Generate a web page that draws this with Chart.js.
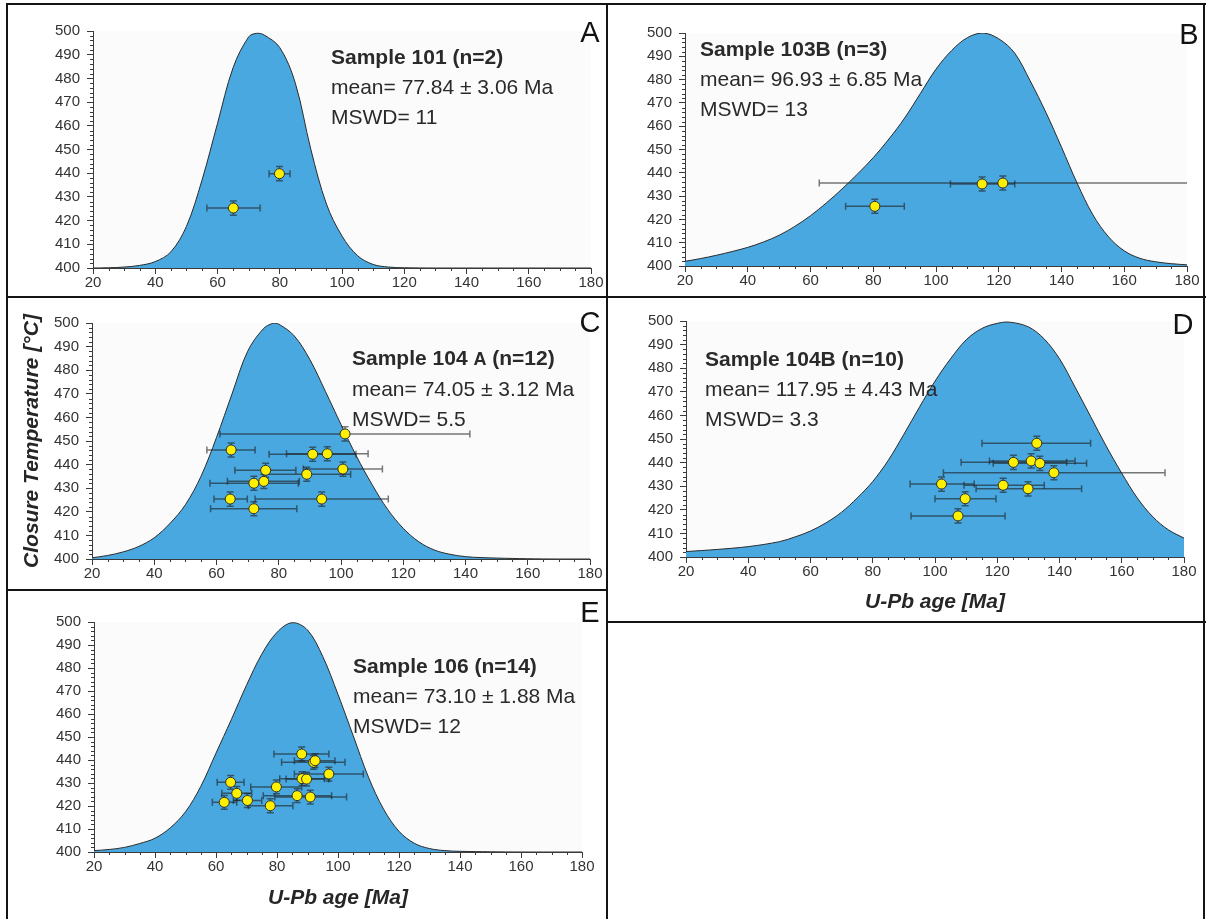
<!DOCTYPE html>
<html>
<head>
<meta charset="utf-8">
<script src="https://cdn.jsdelivr.net/npm/chart.js@4.4.1/dist/chart.umd.min.js"></script>
<style>
  body { margin: 0; background: #fff; width: 1206px; height: 919px; position: relative; overflow: hidden;
         font-family: "Liberation Sans", Arial, sans-serif; }
  canvas { position: absolute; }
  .ln { position: absolute; background: #141414; z-index: 5; }
  .note { position: absolute; font-size: 21px; line-height: 30px; color: #2a2a2a; white-space: nowrap; z-index: 4; }
  .letter { position: absolute; font-size: 29px; color: #111; transform: translate(-50%, -50%); z-index: 4; }
</style>
</head>
<body>

<canvas id="chartA" width="596" height="290" style="left:9px;top:5px"></canvas>
<canvas id="chartB" width="595" height="290" style="left:608px;top:5px"></canvas>
<canvas id="chartC" width="596" height="291" style="left:9px;top:298px"></canvas>
<canvas id="chartD" width="595" height="323" style="left:608px;top:298px"></canvas>
<canvas id="chartE" width="597" height="325" style="left:9px;top:592px"></canvas>

<!-- panel frames -->
<div class="ln" style="left:6px;top:3px;width:1200px;height:2px"></div>
<div class="ln" style="left:6px;top:296px;width:1200px;height:2px"></div>
<div class="ln" style="left:6px;top:589px;width:602px;height:2px"></div>
<div class="ln" style="left:606px;top:621px;width:600px;height:2px"></div>
<div class="ln" style="left:6px;top:3px;width:2px;height:916px"></div>
<div class="ln" style="left:606px;top:3px;width:2px;height:916px"></div>
<div class="ln" style="left:1203px;top:3px;width:2px;height:916px"></div>

<div class="letter" style="left:590px;top:32px">A</div>
<div class="letter" style="left:1189px;top:34px">B</div>
<div class="letter" style="left:590px;top:322px">C</div>
<div class="letter" style="left:1183px;top:324px">D</div>
<div class="letter" style="left:590px;top:612px">E</div>

<div class="note" style="left:331px;top:42px"><b>Sample 101 (n=2)</b><br>mean= 77.84 ± 3.06 Ma<br>MSWD= 11</div>
<div class="note" style="left:700px;top:34px"><b>Sample 103B (n=3)</b><br>mean= 96.93 ± 6.85 Ma<br>MSWD= 13</div>
<div class="note" style="left:352px;top:343px"><b>Sample 104 <span style="font-size:18px">A</span> (n=12)</b><br>mean= 74.05 ± 3.12 Ma<br>MSWD= 5.5</div>
<div class="note" style="left:705px;top:344px"><b>Sample 104B (n=10)</b><br>mean= 117.95 ± 4.43 Ma<br>MSWD= 3.3</div>
<div class="note" style="left:353px;top:651px"><b>Sample 106 (n=14)</b><br>mean= 73.10 ± 1.88 Ma<br>MSWD= 12</div>

<script>
// probability curves (age in Ma, curve height on the temperature axis)
const curveAgeA = [20, 25, 30, 35, 40, 45, 50, 55, 60, 65, 70, 72.5, 75, 80, 85, 90, 95, 100, 105, 110, 115, 120, 130, 140, 150, 160, 170, 180];
const curveA = [400, 400.1, 400.4, 401.1, 402.7, 406.8, 417.5, 437, 461, 484.5, 497.5, 499, 498.3, 493, 478, 450, 427, 413.5, 405.2, 401.5, 400.4, 400.1, 400, 400, 400, 400, 400, 400];

const curveAgeB = [20, 25, 30, 35, 40, 45, 50, 55, 60, 65, 70, 75, 80, 85, 90, 95, 100, 105, 110, 115, 120, 125, 130, 135, 140, 145, 150, 155, 160, 165, 170, 175, 180];
const curveB = [402, 403.2, 404.6, 406.2, 408, 410.3, 413.2, 417, 421.6, 427, 433, 439.5, 446.5, 454.5, 463.5, 474, 484.5, 492.5, 498, 500, 497.5, 491.5, 479.5, 466, 451, 435.5, 422, 412.5, 406.5, 403.3, 401.8, 401, 400.5];

const curveAgeC = [20, 25, 30, 35, 40, 45, 50, 55, 60, 65, 70, 75, 78, 80, 85, 90, 95, 100, 105, 110, 115, 120, 125, 130, 135, 140, 145, 150, 160, 170, 180];
const curveC = [400.5, 401.5, 403, 405.3, 409, 415, 423, 435, 451.5, 470, 488, 497.5, 499.8, 499.5, 494.5, 484.5, 471, 457, 443.5, 431.5, 421, 413, 407.3, 403.8, 402, 401, 400.6, 400.4, 400.1, 400, 400];

const curveAgeD = [20, 30, 40, 50, 55, 60, 65, 70, 75, 80, 85, 90, 95, 100, 105, 110, 115, 120, 124, 130, 135, 140, 145, 150, 155, 160, 165, 170, 175, 180];
const curveD = [402.3, 403.2, 404.4, 406.5, 408.5, 411, 414.5, 419, 425, 432, 441, 452, 463.5, 474.5, 484, 492, 496.8, 499, 499.5, 497.5, 492.5, 484, 472, 459.5, 447, 435.5, 425, 417, 411.5, 408];

const curveAgeE = [20, 25, 30, 35, 40, 45, 50, 55, 60, 65, 70, 75, 80, 85, 90, 95, 100, 105, 110, 115, 120, 125, 130, 135, 140, 150, 160, 170, 180];
const curveE = [400.6, 401.1, 402, 403.7, 406, 410.5, 417.5, 428.5, 443, 457.5, 472.5, 486, 495.5, 499.7, 496.5, 485, 468.5, 450.5, 432.5, 418.5, 409, 403.8, 401.5, 400.6, 400.3, 400.1, 400, 400, 400];

// single grain ages with their closure temperatures and age error ranges
const ageA = [65.1, 79.9];
const tempA = [425.3, 439.8];
const loA = [56.6, 76.6];
const hiA = [73.7, 83.3];

const ageB = [80.5, 114.7, 121.3];
const tempB = [425.6, 435.2, 435.6];
const loB = [71.2, 104.6, 62.8];
const hiB = [89.9, 125.1, 182];

const ageC = [101.3, 64.7, 90.9, 95.6, 75.8, 100.6, 89.0, 72.0, 75.2, 64.4, 93.8, 72.0];
const tempC = [453.0, 446.2, 444.4, 444.6, 437.6, 438.1, 435.9, 432.1, 432.9, 425.4, 425.4, 421.3];
const loC = [61.1, 56.9, 76.9, 82.5, 65.9, 87.9, 75.0, 57.9, 63.5, 59.2, 72.4, 58.1];
const hiC = [141.4, 72.4, 104.8, 108.7, 85.5, 113.3, 103.1, 86.3, 86.6, 69.9, 115.2, 85.8];

const ageD = [132.7, 125.2, 130.9, 133.7, 138.2, 102.1, 121.9, 129.9, 109.7, 107.4];
const tempD = [448.2, 440.1, 440.7, 439.7, 435.7, 430.9, 430.4, 428.9, 424.7, 417.4];
const loD = [115.1, 108.4, 117.5, 118.7, 102.7, 92.0, 109.3, 113.2, 100.0, 92.3];
const hiD = [150.0, 142.3, 145.0, 148.7, 173.9, 112.6, 135.1, 147.1, 119.6, 122.5];

const ageE = [88.1, 92.0, 92.5, 97.0, 88.2, 89.7, 64.8, 79.8, 66.8, 70.3, 62.7, 77.8, 86.6, 90.9];
const tempE = [442.6, 439.0, 439.7, 433.9, 431.9, 431.7, 430.3, 428.3, 425.5, 422.4, 421.6, 420.1, 424.5, 423.9];
const loE = [79.0, 81.5, 85.7, 85.7, 80.9, 83.0, 60.4, 71.4, 61.9, 65.7, 58.8, 70.6, 75.5, 79.3];
const hiE = [97.0, 102.3, 99.0, 108.3, 95.5, 97.0, 69.2, 88.1, 71.7, 75.0, 66.8, 85.2, 97.9, 102.8];

const tempErr = 3;
const ageTicks = [20, 180, 20];   // min, max, step
const tempTicks = [400, 500, 10];

const family = '"Liberation Sans", Arial, sans-serif';
const axisColor = '#3a3a3a';

// light grey plot background
const plotBackground = {
  id: 'plotBackground',
  beforeDraw(chart) {
    const { ctx, chartArea: a } = chart;
    ctx.save();
    ctx.fillStyle = '#fbfbfb';
    ctx.fillRect(a.left, a.top, a.width, a.height);
    ctx.restore();
  }
};

// small ticks between the labelled ones
const minorTicks = {
  id: 'minorTicks',
  afterDraw(chart) {
    const { ctx, scales: { x, y } } = chart;
    ctx.save();
    ctx.strokeStyle = axisColor;
    ctx.lineWidth = 1;
    ctx.beginPath();
    for (let v = ageTicks[0] + 5; v < ageTicks[1]; v += 5) {
      if (v % ageTicks[2] === 0) continue;
      const px = Math.round(x.getPixelForValue(v)) + 0.5;
      ctx.moveTo(px, x.top);
      ctx.lineTo(px, x.top + 3);
    }
    for (let v = tempTicks[0] + 2; v < tempTicks[1]; v += 2) {
      if (v % tempTicks[2] === 0) continue;
      const py = Math.round(y.getPixelForValue(v)) + 0.5;
      ctx.moveTo(y.right - 3, py);
      ctx.lineTo(y.right, py);
    }
    ctx.stroke();
    ctx.restore();
  }
};

// age and temperature error bars, drawn under the grain markers
const errorBars = {
  id: 'errorBars',
  beforeDatasetDraw(chart, args) {
    if (args.index !== 1) return;
    const { ctx, chartArea: a, scales: { x, y } } = chart;
    ctx.save();
    ctx.beginPath();
    ctx.rect(a.left, a.top, a.width, a.height);
    ctx.clip();
    ctx.strokeStyle = 'rgba(30,30,30,0.6)';
    ctx.lineWidth = 1.5;
    chart.data.datasets[1].data.forEach(p => {
      const px = x.getPixelForValue(p.x);
      const py = y.getPixelForValue(p.y);
      const x0 = x.getPixelForValue(p.lo);
      const x1 = x.getPixelForValue(p.hi);
      const y0 = y.getPixelForValue(p.y - tempErr);
      const y1 = y.getPixelForValue(p.y + tempErr);
      ctx.beginPath();
      ctx.moveTo(x0, py); ctx.lineTo(x1, py);
      ctx.moveTo(x0, py - 3.5); ctx.lineTo(x0, py + 3.5);
      ctx.moveTo(x1, py - 3.5); ctx.lineTo(x1, py + 3.5);
      ctx.moveTo(px, y0); ctx.lineTo(px, y1);
      ctx.moveTo(px - 3.5, y0); ctx.lineTo(px + 3.5, y0);
      ctx.moveTo(px - 3.5, y1); ctx.lineTo(px + 3.5, y1);
      ctx.stroke();
    });
    ctx.restore();
  }
};

function buildChart(id, box, curveAge, curveTemp, age, temp, lo, hi, xTitle, yTitle) {
  const curvePts = curveAge.map((a, i) => ({ x: a, y: curveTemp[i] }));
  const grains = age.map((a, i) => ({ x: a, y: temp[i], lo: lo[i], hi: hi[i] }));

  return new Chart(document.getElementById(id), {
    type: 'scatter',
    data: {
      datasets: [
        {
          data: curvePts,
          showLine: true,
          fill: 'start',
          backgroundColor: '#4aa8e0',
          borderColor: '#2b2b2b',
          borderWidth: 1,
          pointRadius: 0,
          tension: 0.35,
          order: 2,
        },
        {
          data: grains,
          pointRadius: 5,
          pointBackgroundColor: '#fff000',
          pointBorderColor: '#2e2e2e',
          pointBorderWidth: 1,
          order: 1,
        },
      ],
    },
    options: {
      responsive: false,
      animation: false,
      layout: { padding: { top: box.top, right: box.right, left: 0, bottom: 0 } },
      plugins: { legend: { display: false }, tooltip: { enabled: false } },
      scales: {
        x: {
          type: 'linear',
          min: ageTicks[0],
          max: ageTicks[1],
          ticks: { stepSize: ageTicks[2], color: '#333', padding: 0, maxRotation: 0, autoSkip: false,
                   font: { family, size: 15 } },
          grid: { drawOnChartArea: false, tickLength: 6, tickColor: axisColor },
          border: { color: axisColor, width: 1 },
          title: {
            display: !!xTitle,
            text: xTitle || '',
            color: '#262626',
            font: { family, size: 21, weight: 'bold', style: 'italic' },
            padding: { top: 0, bottom: 6 },
          },
          afterFit: s => { s.height = box.xHeight; },
        },
        y: {
          min: tempTicks[0],
          max: tempTicks[1],
          ticks: { stepSize: tempTicks[2], color: '#333', padding: 7, font: { family, size: 15 } },
          grid: { drawOnChartArea: false, tickLength: 6, tickColor: axisColor },
          border: { color: axisColor, width: 1 },
          title: {
            display: !!yTitle,
            text: yTitle || '',
            color: '#262626',
            font: { family, size: 21, weight: 'bold', style: 'italic' },
            padding: { top: 11, bottom: 0 },
          },
          afterFit: s => { s.width = box.yWidth; },
        },
      },
    },
    plugins: [plotBackground, errorBars, minorTicks],
  });
}

buildChart('chartA', { yWidth: 84, xHeight: 27, top: 26, right: 14 }, curveAgeA, curveA, ageA, tempA, loA, hiA);
buildChart('chartB', { yWidth: 77, xHeight: 29, top: 28, right: 16 }, curveAgeB, curveB, ageB, tempB, loB, hiB);
buildChart('chartC', { yWidth: 83, xHeight: 30, top: 25, right: 15 }, curveAgeC, curveC, ageC, tempC, loC, hiC,
           null, 'Closure Temperature [°C]');
buildChart('chartD', { yWidth: 78, xHeight: 64, top: 23, right: 19 }, curveAgeD, curveD, ageD, tempD, loD, hiD,
           'U-Pb age [Ma]');
buildChart('chartE', { yWidth: 85, xHeight: 65, top: 30, right: 24 }, curveAgeE, curveE, ageE, tempE, loE, hiE,
           'U-Pb age [Ma]');
</script>
</body>
</html>
